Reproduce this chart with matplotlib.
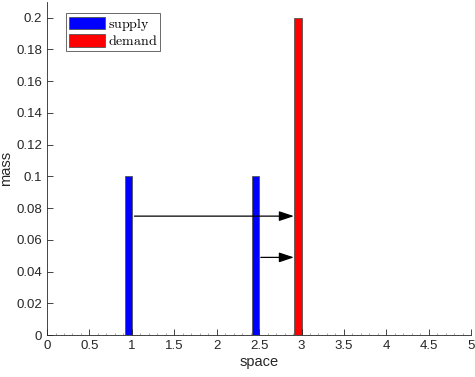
import matplotlib
matplotlib.use("Agg")
import matplotlib.pyplot as plt
from matplotlib.ticker import MultipleLocator

plt.rcParams["font.family"] = ["Liberation Sans", "DejaVu Sans"]
plt.rcParams["mathtext.fontset"] = "cm"

# data
supply_x = [1.0, 2.5]
supply_mass = [0.1, 0.1]
demand_x = [3.0]
demand_mass = [0.2]
# transport arrows: (x_start, x_end, height)
arrow_x0 = [1.03, 2.52]
arrow_x1 = [2.91, 2.91]
arrow_y = [0.075, 0.049]

bar_w = 0.085

fig = plt.figure(figsize=(4.75, 3.77), dpi=100)
ax = fig.add_axes([0.099, 0.111, 0.893, 0.884])

ax.bar(supply_x, supply_mass, width=-bar_w, align="edge", color="#0000ff",
       edgecolor="#555555", linewidth=0.6, label=r"$\mathrm{supply}$")
ax.bar(demand_x, demand_mass, width=-bar_w, align="edge", color="#ff0000",
       edgecolor="#555555", linewidth=0.6, label=r"$\mathrm{demand}$")

for x0, x1, y in zip(arrow_x0, arrow_x1, arrow_y):
    ax.annotate("", xy=(x1, y), xytext=(x0, y),
                arrowprops=dict(arrowstyle="-|>,head_length=0.9,head_width=0.3",
                                color="black", lw=0.9, shrinkA=0, shrinkB=0))

ax.set_xlim(0, 5)
ax.set_ylim(0, 0.21)
ax.xaxis.set_major_locator(MultipleLocator(0.5))
ax.xaxis.set_minor_locator(MultipleLocator(0.1))
ax.yaxis.set_major_locator(MultipleLocator(0.02))
ax.yaxis.set_major_formatter(plt.FuncFormatter(lambda v, p: f"{v:g}"))
ax.xaxis.set_major_formatter(plt.FuncFormatter(lambda v, p: f"{v:g}"))

for s in ["top", "right"]:
    ax.spines[s].set_visible(False)
for s in ["left", "bottom"]:
    ax.spines[s].set_color("#262626")
    ax.spines[s].set_linewidth(0.6)
ax.tick_params(which="both", direction="in", colors="#262626", labelsize=9.5, width=0.6)
ax.tick_params(which="major", length=4)
ax.tick_params(which="minor", length=1.2, colors="#999999")

ax.set_xlabel("space", fontsize=10.5, color="#262626", labelpad=2)
ax.set_ylabel("mass", fontsize=10.5, color="#262626", labelpad=2)

leg = ax.legend(loc="upper left", bbox_to_anchor=(66 / 475, 1 - 13 / 377),
                bbox_transform=fig.transFigure, fontsize=10, frameon=True,
                fancybox=False, handlelength=2.6, handleheight=1.0,
                borderpad=0.2, labelspacing=0.1, handletextpad=0.2,
                borderaxespad=0)
leg.get_frame().set_edgecolor("#262626")
leg.get_frame().set_linewidth(0.6)

fig.savefig("out.png", dpi=100)
